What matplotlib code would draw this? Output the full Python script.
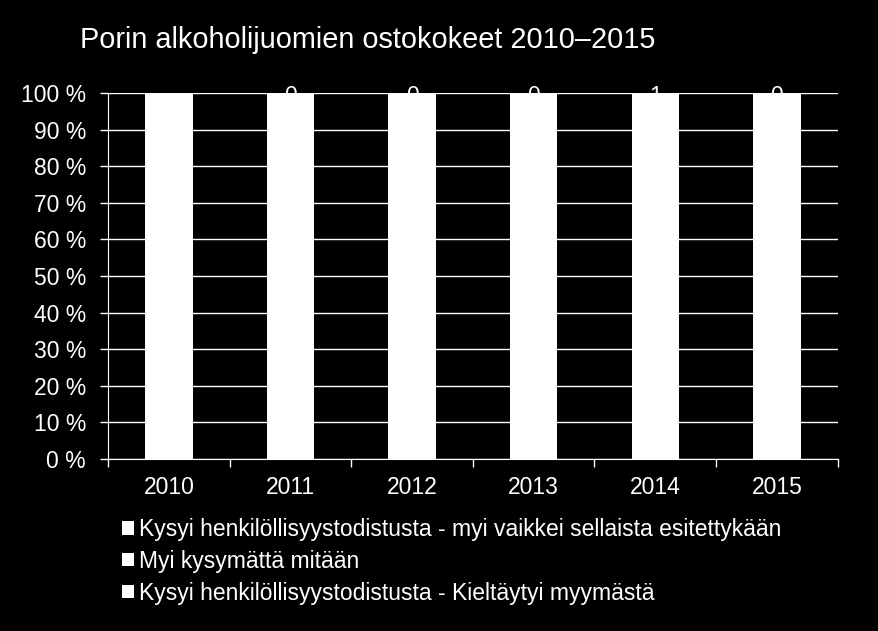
import matplotlib
matplotlib.use('Agg')
from matplotlib import pyplot as plt
import numpy as np

plt.rcParams['font.family'] = ['Liberation Sans', 'DejaVu Sans']

years = ['2010', '2011', '2012', '2013', '2014', '2015']
series_names = ['Kysyi henkilöllisyystodistusta - myi vaikkei sellaista esitettykään',
                'Myi kysymättä mitään',
                'Kysyi henkilöllisyystodistusta - Kieltäytyi myymästä']
# purchase test counts (estimated, all bars drawn white so only the labels peek out)
myi_vaikkei = [0, 0, 0, 0, 1, 0]
myi_kysymatta = [3, 4, 2, 3, 4, 2]
kieltaytyi = [17, 16, 18, 15, 15, 18]
top_labels = ['', '0', '0', '0', '1', '0']

data = np.array([kieltaytyi, myi_kysymatta, myi_vaikkei], dtype=float)
shares = data / data.sum(axis=0) * 100

fig = plt.figure(figsize=(8.79, 6.31), dpi=100, facecolor='black')
ax = fig.add_axes([0.123, 0.2726, 0.830, 0.580], facecolor='black')

x = np.arange(len(years))
bottom = np.zeros(len(years))
handles = []
for vals in shares:
    b = ax.bar(x, vals, 0.39, bottom=bottom, color='white', zorder=2)
    handles.append(b)
    bottom += vals

# data labels of the top segment, white on white: only their tops show above the bars
for i, lab in enumerate(top_labels):
    ax.text(x[i], bottom[i] - 0.9, lab, color='white', fontsize=16.5,
            ha='center', va='center', clip_on=False, zorder=3)

ax.set_xlim(-0.5, len(years) - 0.5)
ax.set_ylim(0, 100)
ax.set_yticks(np.arange(0, 101, 10))
ax.set_yticklabels([f'{v} %' for v in range(0, 101, 10)])
ax.set_xticks(x)
ax.set_xticklabels(years)
ax.set_xticks(np.arange(-0.5, len(years), 1), minor=True)
ax.tick_params(axis='x', which='major', length=0, pad=12, labelsize=16.5, labelcolor='white')
ax.tick_params(axis='x', which='minor', length=6, color='white', width=1)
ax.tick_params(axis='y', length=6, color='white', width=1, labelsize=16.5, labelcolor='white', pad=10)
ax.yaxis.grid(True, color='white', linewidth=1, zorder=1)
ax.set_axisbelow(True)
for side in ['top', 'right']:
    ax.spines[side].set_visible(False)
for side in ['left', 'bottom']:
    ax.spines[side].set_color('white')

fig.text(0.091, 0.936, 'Porin alkoholijuomien ostokokeet 2010–2015', color='white',
         fontsize=20.8, ha='left', va='center')

leg = fig.legend(handles[::-1], series_names, loc='upper left', bbox_to_anchor=(0.126, 0.197),
                 frameon=False, fontsize=16.5, labelcolor='white', handlelength=0.5,
                 handleheight=0.5, handletextpad=0.25, labelspacing=0.38, borderpad=0)

plt.savefig('out.png', dpi=100, facecolor='black')
